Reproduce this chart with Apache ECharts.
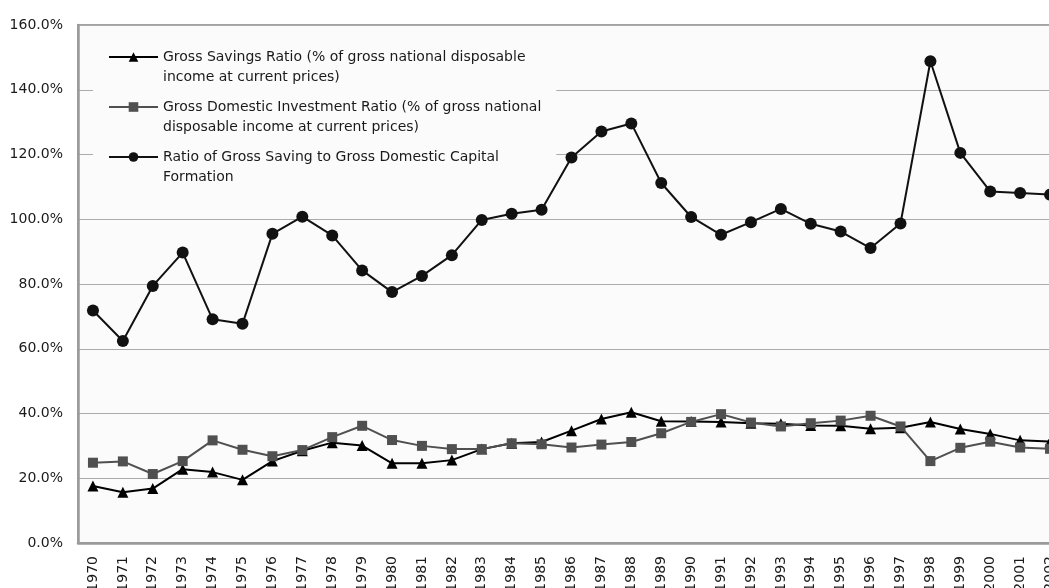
<!DOCTYPE html>
<html>
<head>
<meta charset="utf-8">
<script src="https://cdn.jsdelivr.net/npm/echarts@6/dist/echarts.min.js"></script>
<style>
  html, body { margin: 0; padding: 0; background: #ffffff; }
  #chart { width: 1049px; height: 588px; }
</style>
</head>
<body>
<div id="chart"></div>
<script>
// Years on the category axis
const years = ['1970','1971','1972','1973','1974','1975','1976','1977','1978','1979',
  '1980','1981','1982','1983','1984','1985','1986','1987','1988','1989',
  '1990','1991','1992','1993','1994','1995','1996','1997','1998','1999',
  '2000','2001','2002'];

// Gross Savings Ratio (% of GNDI at current prices)
const savingsRatio = [17.6, 15.7, 16.8, 22.8, 21.9, 19.5, 25.3, 28.5, 31.0, 30.1,
  24.6, 24.6, 25.6, 29.0, 30.8, 31.2, 34.7, 38.3, 40.4, 37.6,
  37.5, 37.4, 37.0, 36.8, 36.3, 36.2, 35.3, 35.6, 37.4, 35.2,
  33.7, 31.7, 31.3];

// Gross Domestic Investment Ratio (% of GNDI at current prices)
const investmentRatio = [24.8, 25.2, 21.3, 25.3, 31.7, 28.8, 26.8, 28.7, 32.7, 36.2,
  31.8, 30.0, 29.0, 29.0, 30.8, 30.5, 29.5, 30.4, 31.2, 33.9,
  37.4, 39.8, 37.2, 36.0, 37.0, 37.8, 39.3, 36.0, 25.3, 29.4,
  31.3, 29.5, 29.1];

// Ratio of gross saving to gross domestic capital formation
const savingToCapital = [71.8, 62.4, 79.4, 89.7, 69.1, 67.7, 95.5, 100.8, 95.0, 84.2,
  77.5, 82.5, 88.9, 99.8, 101.7, 102.9, 119.1, 127.1, 129.6, 111.2,
  100.7, 95.2, 99.1, 103.2, 98.6, 96.2, 91.1, 98.7, 148.8, 120.5,
  108.6, 108.1, 107.6];

// Value-axis ticks
const yMin = 0, yMax = 160, yStep = 20;

const seriesNames = [
  'Gross Savings Ratio (% of gross national disposable\nincome at current prices)',
  'Gross Domestic Investment Ratio (% of gross national\ndisposable income at current prices)',
  'Ratio of Gross Saving to Gross Domestic Capital\nFormation'
];

const FONT = 'DejaVu Sans';
const chart = echarts.init(document.getElementById('chart'), null, { renderer: 'canvas' });

chart.setOption({
  animation: false,
  backgroundColor: '#ffffff',
  textStyle: { fontFamily: FONT },
  grid: {
    left: 78, top: 25, width: 987, height: 518,
    outerBoundsMode: 'none',
    containLabel: false,
    show: true,
    backgroundColor: '#fbfbfb',
    borderColor: '#a3a3a3',
    borderWidth: 2
  },
  legend: {
    orient: 'vertical',
    left: 93, top: 27,
    padding: [0, 15, 10, 15],
    backgroundColor: '#fbfbfb',
    itemWidth: 49,
    itemHeight: 12,
    itemGap: -10,
    // a leading blank line keeps the symbol level with the first text line
    formatter: name => ' \n' + name,
    textStyle: {
      fontFamily: FONT, fontSize: 14, color: '#1a1a1a',
      lineHeight: 20
    },
    data: seriesNames
  },
  xAxis: {
    type: 'category',
    data: years,
    boundaryGap: true,
    axisLine: { lineStyle: { color: '#9a9a9a', width: 2.5 } },
    axisTick: { inside: true, length: 5, lineStyle: { color: '#9a9a9a', width: 1 } },
    axisLabel: {
      rotate: 90, margin: 13, interval: 0,
      fontFamily: FONT, fontSize: 14, color: '#1a1a1a'
    }
  },
  yAxis: {
    type: 'value',
    min: yMin, max: yMax, interval: yStep,
    axisLine: { show: true, lineStyle: { color: '#9a9a9a', width: 2.5 } },
    axisTick: { show: false },
    splitLine: { lineStyle: { color: '#ababab', width: 1.2 } },
    axisLabel: {
      margin: 15,
      fontFamily: FONT, fontSize: 14, color: '#1a1a1a',
      formatter: v => v.toFixed(1) + '%'
    }
  },
  series: [
    {
      name: seriesNames[0], type: 'line', data: savingsRatio,
      symbol: 'triangle', symbolSize: 11,
      itemStyle: { color: '#000000' },
      lineStyle: { color: '#000000', width: 2 },
      z: 3
    },
    {
      name: seriesNames[1], type: 'line', data: investmentRatio,
      symbol: 'rect', symbolSize: 10,
      itemStyle: { color: '#505050' },
      lineStyle: { color: '#505050', width: 2 },
      z: 4
    },
    {
      name: seriesNames[2], type: 'line', data: savingToCapital,
      symbol: 'circle', symbolSize: 12,
      itemStyle: { color: '#111111' },
      lineStyle: { color: '#111111', width: 2 },
      z: 5
    }
  ]
});
</script>
</body>
</html>
